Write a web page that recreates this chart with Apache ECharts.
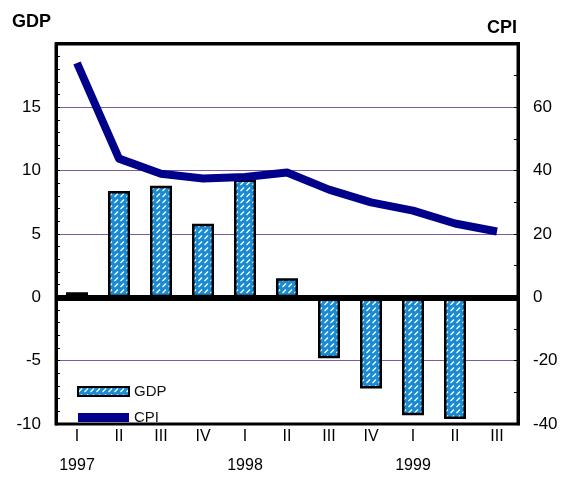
<!DOCTYPE html>
<html><head><meta charset="utf-8">
<script src="https://cdn.jsdelivr.net/npm/echarts@6/dist/echarts.min.js"></script>
<style>html,body{margin:0;padding:0;background:#fff}#c{width:567px;height:485px}</style>
</head><body><div id="c"></div>
<script>
var categories = ['1997 I','1997 II','1997 III','1997 IV','1998 I','1998 II','1998 III','1998 IV','1999 I','1999 II','1999 III'];
var quarterLabels = ['I','II','III','IV','I','II','III','IV','I','II','III'];
var yearLabels = ['1997','','','','1998','','','','1999','',''];
var gdp = [0.4, 8.4, 8.8, 5.8, 9.3, 1.5, -4.8, -7.2, -9.3, -9.6, null];
var cpi = [74, 43.8, 39, 37.5, 38, 39.4, 34, 30, 27.4, 23.3, 20.8];

var pc = document.createElement('canvas');
pc.width = 6; pc.height = 6;
var g = pc.getContext('2d');
g.fillStyle = '#1a8bd2'; g.fillRect(0,0,6,6);
g.strokeStyle = '#ffffff'; g.lineWidth = 1.2;
g.beginPath(); g.moveTo(0.5,5); g.lineTo(4,1.5); g.stroke();

var grid = '#7a5aa6';
var chart = echarts.init(document.getElementById('c'), null, {renderer:'canvas'});
var font = 'Liberation Sans, Arial, sans-serif';
chart.setOption({
  animation: false,
  textStyle: {fontFamily: font},
  grid: {left: 56, right: 49, top: 44, bottom: 61, show: true, borderColor: '#000', borderWidth: 3, backgroundColor: 'transparent'},
  graphic: [
    {type:'text', left: 12, top: 13, style:{text:'GDP', font:'bold 18px '+font, fill:'#000'}},
    {type:'text', left: 487, top: 19, style:{text:'CPI', font:'bold 18px '+font, fill:'#000'}},
    {type:'rect', left: 55, top: 42, shape:{width: 465, height: 3}, style:{fill:'#000'}, z: 10},
    {type:'rect', left: 55, top: 423, shape:{width: 465, height: 2}, style:{fill:'#000'}, z: 10}
  ],
  legend: {
    orient: 'vertical', left: 72, top: 379, itemWidth: 51, itemHeight: 9, itemGap: 11,
    textStyle: {fontSize: 15, color: '#111', fontFamily: font, padding:[2,0,0,0]},
    data: [{name:'GDP', icon:'rect'}, {name:'CPI', icon:'rect'}]
  },
  xAxis: {
    type: 'category', data: categories, boundaryGap: true,
    axisLine: {show: false}, axisTick: {show: false},
    axisLabel: {
      interval: 0, margin: 4, color: '#000',
      formatter: function(v, i){ return '{a|' + quarterLabels[i] + '}\n{b|' + (yearLabels[i] || ' ') + '}'; },
      rich: {a: {fontSize: 16, lineHeight: 18, color:'#000'}, b: {fontSize: 16, lineHeight: 40, color:'#000'}}
    }
  },
  yAxis: [
    {type:'value', min:-10, max:20, interval:5, position:'left',
     axisLine:{show:true, lineStyle:{color:'#000', width:3}},
     axisTick:{show:true, inside:true, length:4, lineStyle:{color:'#000'}},
     minorTick:{show:true, splitNumber:5, length:4, lineStyle:{color:'#000'}},
     splitLine:{show:true, lineStyle:{color:['rgba(0,0,0,0)', grid, 'rgba(0,0,0,0)', grid, grid, grid, 'rgba(0,0,0,0)'], width:1.2}},
     axisLabel:{margin:15, fontSize:17, color:'#000', formatter:function(v){return v===20?'':String(v);}}
    },
    {type:'value', min:-40, max:80, interval:20, position:'right',
     axisLine:{show:true, lineStyle:{color:'#000', width:3}},
     axisTick:{show:true, inside:true, length:4, lineStyle:{color:'#000'}},
     minorTick:{show:true, splitNumber:2, length:4, lineStyle:{color:'#000'}},
     splitLine:{show:false},
     axisLabel:{margin:15, fontSize:17, color:'#000', formatter:function(v){return v===80?'':String(v);}}
    }
  ],
  series: [
    {name:'GDP', type:'bar', data: gdp, yAxisIndex:0, barWidth: 22, z: 2,
     itemStyle:{color:{image: pc, repeat:'repeat'}, borderColor:'#000', borderWidth:2.5},
     markLine:{silent:true, symbol:'none', label:{show:false}, lineStyle:{color:'#000', width:6, type:'solid'}, data:[{yAxis:0}]}
    },
    {name:'CPI', type:'line', data: cpi, yAxisIndex:1, symbol:'none', z: 5,
     lineStyle:{color:'#00008a', width:8, join:'round'}, itemStyle:{color:'#00008a'}}
  ]
});
</script></body></html>
